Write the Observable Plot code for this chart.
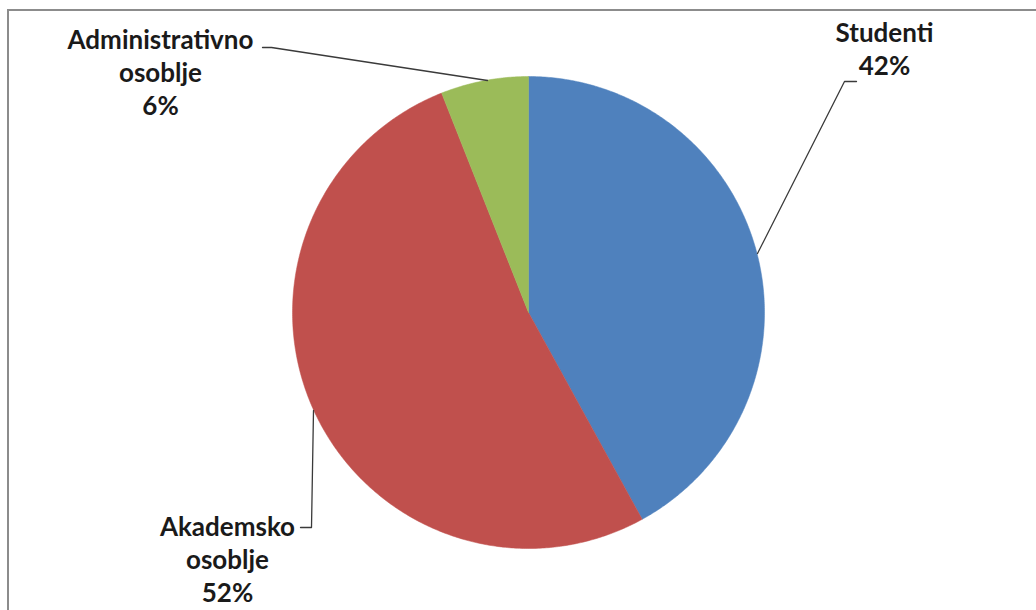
<!DOCTYPE html>
<html>
<head>
<meta charset="utf-8">
<script src="https://cdn.jsdelivr.net/npm/d3@7"></script>
<script src="https://cdn.jsdelivr.net/npm/@observablehq/plot@0.6"></script>
<style>
  html, body { margin: 0; padding: 0; background: #fff; overflow: hidden; }
  #wrap { position: relative; width: 1036px; height: 610px; overflow: hidden; }
  #frame { position: absolute; left: 7px; top: 9px; width: 1100px; height: 700px; border: 2px solid #8c8c8c; box-sizing: border-box; }
  #chart { position: absolute; left: 0; top: 0; }
</style>
</head>
<body>
<div id="wrap"><div id="frame"></div><div id="chart"></div></div>
<script>
// ---- data ----
const categories = ["Studenti", "Akademsko osoblje", "Administrativno osoblje"];
const shares = [42, 52, 6];
const colors = ["#4F81BD", "#C0504D", "#9BBB59"];

// ---- layout (pixel space of the chart) ----
const W = 1036, H = 610;
const pie = {cx: 528, cy: 312, r: 236};
const labelAnchors = [
  {x: 884, y: 18},   // Studenti
  {x: 227, y: 512},  // Akademsko osoblje
  {x: 160, y: 25}    // Administrativno osoblje
];
const leaders = [
  [[856, 81], [844, 81], [757, 253]],
  [[300, 527], [311, 527], [313, 410]],
  [[262, 47], [271, 47], [487, 80]]
];

// ---- build slice polygons from the data ----
const arcs = d3.pie().sort(null).value(d => d)(shares);
const slicePts = [];
arcs.forEach((a, i) => {
  const name = categories[i];
  slicePts.push({name, x: pie.cx, y: pie.cy});
  const n = Math.max(4, Math.ceil((a.endAngle - a.startAngle) / (Math.PI / 360)));
  for (let k = 0; k <= n; k++) {
    const t = a.startAngle + (a.endAngle - a.startAngle) * k / n;
    slicePts.push({name, x: pie.cx + pie.r * Math.sin(t), y: pie.cy - pie.r * Math.cos(t)});
  }
  slicePts.push({name, x: pie.cx, y: pie.cy});
});

const labels = categories.map((c, i) => ({
  name: c,
  text: c.replace(" ", "\n") + "\n" + shares[i] + "%",
  x: labelAnchors[i].x, y: labelAnchors[i].y
}));

const leaderPts = leaders.flatMap((pts, i) => pts.map(([x, y]) => ({name: categories[i], x, y})));

const chart = Plot.plot({
  width: W, height: H,
  margin: 0,
  style: {background: "transparent", overflow: "visible"},
  x: {domain: [0, W], range: [0, W], axis: null},
  y: {domain: [0, H], range: [0, H], axis: null},
  color: {domain: categories, range: colors},
  marks: [
    Plot.line(slicePts, {x: "x", y: "y", z: "name", fill: "name", stroke: "name", strokeWidth: 0.5, curve: "linear"}),
    Plot.line(leaderPts, {x: "x", y: "y", z: "name", stroke: "#3a3a3a", strokeWidth: 1.3}),
    Plot.text(labels, {
      x: "x", y: "y", text: "text",
      textAnchor: "middle", lineAnchor: "top", lineHeight: 1.27,
      fontSize: 26, fontWeight: "bold", fill: "#1a1a1a",
      fontFamily: "Lato, 'Open Sans', sans-serif"
    })
  ]
});
document.getElementById("chart").appendChild(chart);
</script>
</body>
</html>
